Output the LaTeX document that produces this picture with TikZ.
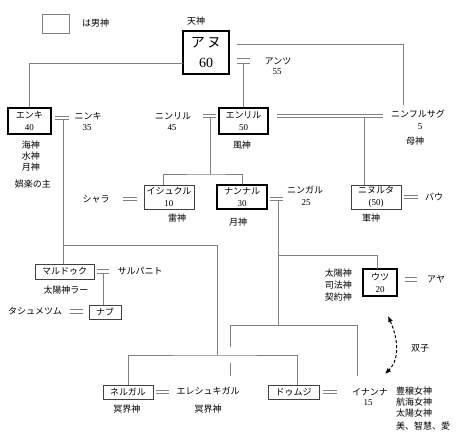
\documentclass[tikz,border=0pt]{standalone}
\usepackage{fontspec}
\setmainfont{Noto Sans CJK JP}
\newfontfamily\nf{Liberation Serif}
\usetikzlibrary{arrows.meta}
\definecolor{ln}{HTML}{808080}
\definecolor{bx}{HTML}{404040}
\tikzset{
  conn/.style={draw=ln, line width=0.9pt},
  male/.style={draw=black, line width=1.6pt, inner sep=0pt, align=center, font=\fontsize{9}{12}\selectfont},
  god/.style={draw=bx, line width=0.8pt, inner sep=0pt, align=center, font=\fontsize{9}{12}\selectfont},
  lbl/.style={inner sep=0pt, align=center, font=\fontsize{9}{11}\selectfont},
  lbll/.style={lbl, anchor=west, align=left},
  lblr/.style={lbl, anchor=east, align=right},
  twin/.style={draw=black, line width=1pt, dash pattern=on 3pt off 2pt, {Latex[length=6pt,width=5pt]}-{Latex[length=6pt,width=5pt]}},
}
\begin{document}
\begin{tikzpicture}[x=1pt,y=-1pt]
\useasboundingbox[fill=white] (0,0) rectangle (459,439);

% legend
\node[draw=ln, line width=0.8pt, minimum width=27pt, minimum height=19pt, inner sep=0pt] (legend) at (55.5,23.5) {};
\node[lbll] (legendtxt) at (82,23) {は男神};

% boxes
\node[male, minimum width=46pt, minimum height=43pt, font=\fontsize{14}{20}\selectfont] (anu) at (206,52.5) {ア\,ヌ\\{\nf 60}};
\node[male, minimum width=43pt, minimum height=26pt] (enki) at (29.5,121) {エンキ\\{\nf 40}};
\node[male, minimum width=49pt, minimum height=26pt] (enlil) at (243.5,121) {エンリル\\{\nf 50}};
\node[god, minimum width=50pt, minimum height=24pt] (ishkur) at (169,197) {イシュクル\\{\nf 10}};
\node[male, minimum width=50pt, minimum height=24pt] (nanna) at (242,197) {ナンナル\\{\nf 30}};
\node[god, minimum width=50pt, minimum height=24pt] (ninurta) at (376,197) {ニヌルタ\\{\nf (50)}};
\node[god, minimum width=59pt, minimum height=15pt] (marduk) at (64.5,271.5) {マルドゥク};
\node[god, minimum width=32pt, minimum height=14pt] (nabu) at (105,312) {ナブ};
\node[male, minimum width=34pt, minimum height=27pt] (utu) at (380,282.5) {ウツ\\{\nf 20}};
\node[god, minimum width=50pt, minimum height=14pt] (nergal) at (128,392) {ネルガル};
\node[god, minimum width=51pt, minimum height=14pt] (dumuzi) at (293.5,392) {ドゥムジ};

% labels
\node[lbl] (tenjin) at (196,21) {天神};
\node[lbl] (antu) at (278,61) {アンツ};
\node[lbl] (antun) at (277,72) {\nf 55};
\node[lbl] (ninki) at (88,116) {ニンキ};
\node[lbl] (ninkin) at (87,128) {\nf 35};
\node[lbl, font=\fontsize{9}{11}\selectfont] (enkiep) at (31,156) {海神\\水神\\月神};
\node[lbl] (enkiep2) at (33,184) {娯楽の主};
\node[lbl] (ninlil) at (173,116) {ニンリル};
\node[lbl] (ninliln) at (172,128) {\nf 45};
\node[lbl] (fujin) at (242,145) {風神};
\node[lbl] (nhs) at (418,114) {ニンフルサグ};
\node[lbl] (nhsn) at (420,127) {\nf 5};
\node[lbl] (boshin) at (415,141) {母神};
\node[lbl] (shara) at (96,199) {シャラ};
\node[lbl] (raijin) at (177,218) {雷神};
\node[lbl] (getsujin) at (238,222) {月神};
\node[lbl] (ningal) at (305,190) {ニンガル};
\node[lbl] (ningaln) at (306,203) {\nf 25};
\node[lbl] (bau) at (434,197) {バウ};
\node[lbl] (gunjin) at (371,218) {軍神};
\node[lbl] (sarpanit) at (140,271) {サルパニト};
\node[lbl] (ra) at (66,290) {太陽神ラー};
\node[lbl] (tashmetum) at (35,311) {タシュメツム};
\node[lblr, font=\fontsize{9}{12}\selectfont] (utuep) at (352,285) {太陽神\\司法神\\契約神};
\node[lbl] (aya) at (436,279) {アヤ};
\node[lbl] (futago) at (420,348) {双子};
\node[lbl] (ereshkigal) at (208,391) {エレシュキガル};
\node[lbl] (meikai1) at (127,409) {冥界神};
\node[lbl] (meikai2) at (208,409) {冥界神};
\node[lbl] (inanna) at (370,392) {イナンナ};
\node[lbl] (inannan) at (368,403) {\nf 15};
\node[lbll] (inep1) at (396,391) {豊穣女神};
\node[lbll] (inep2) at (396,402) {航海女神};
\node[lbll] (inep3) at (396,413) {太陽女神};
\node[lbll] (inep4) at (396,426) {美、智慧、愛};

% marriage marks
\draw[conn] (237,58) -- (250,58) (237,63) -- (250,63);
\draw[conn] (55,116) -- (69,116) (55,119.5) -- (69,119.5);
\draw[conn] (203,114) -- (216,114) (203,117.5) -- (216,117.5);
\draw[conn] (277,114) -- (383,114) (277,117.5) -- (383,117.5);
\draw[conn] (123,197) -- (137,197) (123,200.5) -- (137,200.5);
\draw[conn] (270,197) -- (283,197) (270,200.5) -- (283,200.5);
\draw[conn] (404,195) -- (418,195) (404,198.5) -- (418,198.5);
\draw[conn] (97,269) -- (109,269) (97,273) -- (109,273);
\draw[conn] (70,309) -- (83,309) (70,313.5) -- (83,313.5);
\draw[conn] (405,277) -- (417,277) (405,281) -- (417,281);
\draw[conn] (156,390) -- (169,390) (156,393.5) -- (169,393.5);
\draw[conn] (323,390) -- (337,390) (323,393.5) -- (337,393.5);

% junction coordinates
\coordinate (anuL) at (183,63);
\coordinate (anuR) at (237,44);
\coordinate (nhsTop) at (403,105);
\coordinate (anuEq) at (243,63);
\coordinate (enkiEq) at (63,119.5);
\coordinate (j1) at (63,245);
\coordinate (j2) at (217,355);
\coordinate (dumuziTop) at (297,385);
\coordinate (enlilEq) at (210,117.5);
\coordinate (j3) at (210,174);
\coordinate (ishTop) at (163,185);
\coordinate (enlilEqR) at (364,117.5);
\coordinate (nannaEq) at (278,200.5);
\coordinate (j4) at (278,255);
\coordinate (utuTop) at (377,269);
\coordinate (j5) at (278,325);
\coordinate (eresh1) at (230,325);
\coordinate (eresh2) at (230,347);
\coordinate (eresh3) at (230,363);
\coordinate (eresh4) at (230,376);
\coordinate (inanna1) at (357,325);
\coordinate (inanna2) at (357,376);
\coordinate (mardukEq) at (103,273);
\coordinate (arrT) at (388,316);
\coordinate (arrB) at (385,374);

% connectors
\draw[conn] (anuL) -| (enki.north);
\draw[conn] (anuR) -| (nhsTop);
\draw[conn] (anuEq) -- (anuEq |- enlil.north);
\draw[conn] (enkiEq) -- (enkiEq |- marduk.north);
\draw[conn] (j1) -| (j2);
\draw[conn] (nergal.north) |- (j2) -| (dumuziTop);
\draw[conn] (enlilEq) -- (j3);
\draw[conn] (ishTop) |- (j3) -| (nanna.north);
\draw[conn] (enlilEqR) -- (enlilEqR |- ninurta.north);
\draw[conn] (nannaEq) -- (j5);
\draw[conn] (j4) -| (utuTop);
\draw[conn] (eresh1) -- (inanna1);
\draw[conn] (eresh1) -- (eresh2) (eresh3) -- (eresh4);
\draw[conn] (inanna1) -- (inanna2);
\draw[conn] (mardukEq) -- (mardukEq |- nabu.north);

% twins arrow
\draw[twin] (arrT) .. controls (397,336) and (401,358) .. (arrB);
\end{tikzpicture}
\end{document}
